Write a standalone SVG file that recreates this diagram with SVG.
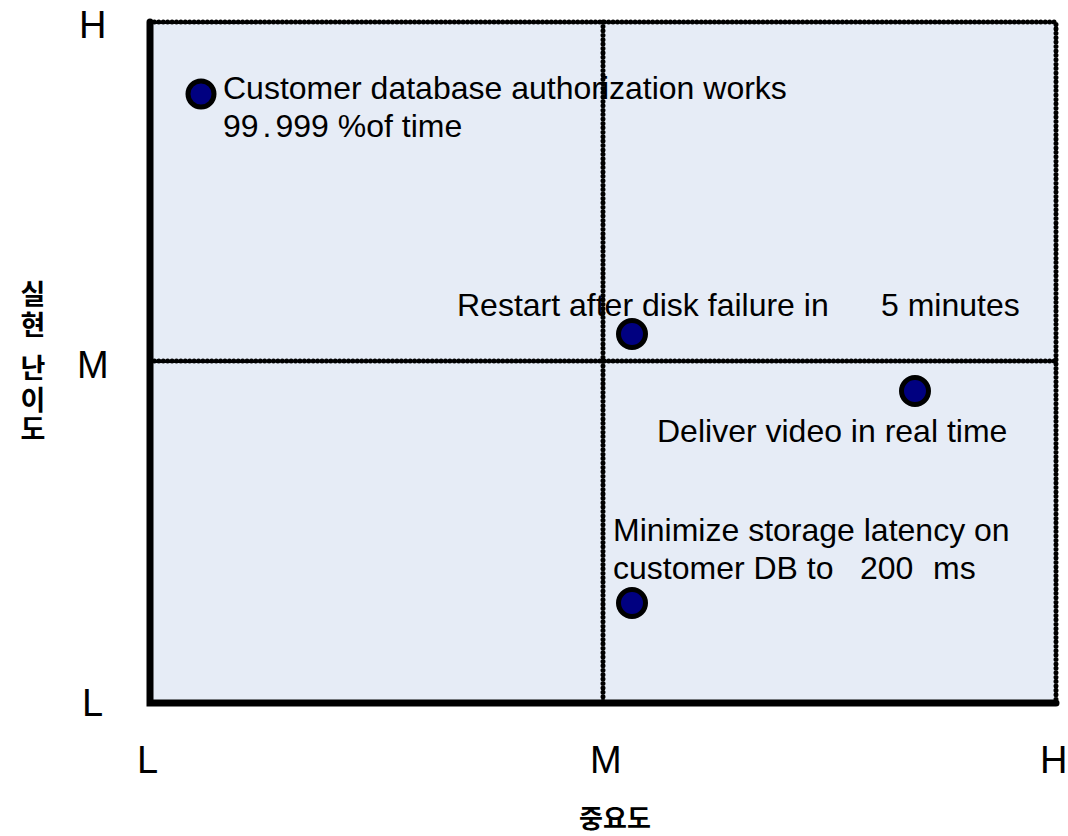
<svg xmlns="http://www.w3.org/2000/svg" width="1068" height="836" viewBox="0 0 1068 836">
<style>
.lbl{font-family:"Liberation Sans",Arial,sans-serif;font-size:32px;fill:#000}
.ax{font-family:"Liberation Sans",Arial,sans-serif;font-size:38px;fill:#000}
.ko{font-family:"Noto Sans CJK KR","Noto Sans",sans-serif;font-size:27px;font-weight:bold;fill:#000;text-anchor:middle}
.dot{stroke:#000;stroke-width:5;stroke-dasharray:0.01 4.4;stroke-linecap:round;fill:none}
.solid{stroke:#000;stroke-width:7;stroke-linecap:round;fill:none}
.pt{fill:#000080;stroke:#000;stroke-width:5}
</style>
<rect width="1068" height="836" fill="#fff"/>
<g id="plot">
<rect x="150" y="22" width="906" height="681" fill="#E6ECF6"/>
</g>
<g id="grid">
<path class="dot" d="M150 22 H1056 V703"/>
<path class="dot" d="M603 22 V703"/>
<path class="dot" d="M150 361 H1056"/>
<path class="solid" d="M150 22 V703 H1056"/>
</g>
<g id="axis-labels">
<text class="ax" x="79" y="38">H</text>
<text class="ax" x="77" y="378">M</text>
<text class="ax" x="82" y="716">L</text>
<text class="ax" x="137" y="773">L</text>
<text class="ax" x="590" y="773">M</text>
<text class="ax" x="1040" y="773">H</text>
<g id="y-title">
<text class="ko" x="33" y="304">실</text>
<text class="ko" x="33" y="335">현</text>
<text class="ko" x="33" y="378">난</text>
<text class="ko" x="33" y="410">이</text>
<text class="ko" x="33" y="439">도</text>
</g>
<text class="ko" x="615" y="828" style="font-size:26px">중요도</text>
</g>
<g id="node-customer">
<circle class="pt" cx="201" cy="94" r="13"/>
<text class="lbl" x="223" y="99">Customer database authorization works</text>
<text class="lbl" x="223" y="137">99<tspan dx="4">.</tspan><tspan dx="4">999 %of time</tspan></text>
</g>
<g id="node-restart">
<circle class="pt" cx="632" cy="334" r="13.5"/>
<text class="lbl" x="457" y="316">Restart after disk failure in</text>
<text class="lbl" x="881" y="316">5 minutes</text>
</g>
<g id="node-video">
<circle class="pt" cx="915" cy="391" r="13.5"/>
<text class="lbl" x="657" y="442">Deliver video in real time</text>
</g>
<g id="node-latency">
<circle class="pt" cx="632" cy="603" r="13.5"/>
<text class="lbl" x="613" y="541">Minimize storage latency on</text>
<text class="lbl" x="613" y="579">customer DB to</text>
<text class="lbl" x="860" y="579">200</text>
<text class="lbl" x="933" y="579">ms</text>
</g>
</svg>
